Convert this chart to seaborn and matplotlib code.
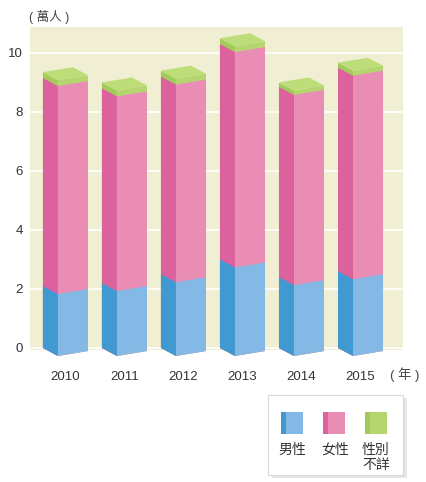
import numpy as np
import pandas as pd
import matplotlib
matplotlib.use("Agg")
import matplotlib.pyplot as plt
import seaborn as sns
from matplotlib.transforms import Affine2D
from matplotlib.patches import Polygon, Rectangle, FancyBboxPatch

years = ["2010", "2011", "2012", "2013", "2014", "2015"]
male = [2.1, 2.2, 2.5, 3.0, 2.4, 2.6]
female = [7.05, 6.6, 6.7, 7.3, 6.45, 6.9]
unknown = [0.2, 0.2, 0.2, 0.2, 0.15, 0.17]
series_labels = ["男性", "女性", "性別\n不詳"]
yticks = [0, 2, 4, 6, 8, 10]

df = pd.DataFrame({"year": years, "male": male, "female": female, "unknown": unknown})
df["lvl1"] = df["male"]
df["lvl2"] = df["male"] + df["female"]
df["lvl3"] = df["lvl2"] + df["unknown"]

# colours: (side, front)
blue = ("#4199d2", "#84b9e5")
pink = ("#dc629d", "#e98db4")
green = ("#a3cb5a", "#b5d66e")
green_top = "#bddd78"
bg = "#f1efd3"

sns.set_theme(style="white")
plt.rcParams["font.family"] = ["Liberation Sans", "Noto Sans CJK TC", "DejaVu Sans"]

W, H = 427, 482
fig = plt.figure(figsize=(W / 100, H / 100), dpi=100)
ax = fig.add_axes([30 / W, 132 / H, 373 / W, 323 / H])
ax.set_facecolor(bg)

px_x = 1 / 59.0   # data units per pixel
px_y = 1 / 29.5
sw = 15 * px_x    # side face width
fw = 30 * px_x    # front face width
half = 22.5 * px_x
drop = 8 * px_y   # front corner lower than the left edge
rise = 5 * px_y   # right edge higher than the front corner


def skew(patches, shift, k, anchor_off, d):
    for i, p in enumerate(patches):
        xl = i - half + anchor_off
        m = np.array([[1, 0, shift], [k, 1, k * (shift - xl) + d], [0, 0, 1]])
        p.set_transform(Affine2D(m) + ax.transData)
        p.set_clip_on(False)


layers = [("lvl3", green), ("lvl2", pink), ("lvl1", blue)]
for col, (c_side, c_front) in layers:
    n0 = len(ax.patches)
    sns.barplot(data=df, x="year", y=col, color=c_side, width=sw, saturation=1,
                linewidth=0, edgecolor="none", ax=ax)
    skew(ax.patches[n0:], -half + sw / 2, -drop / sw, 0, 0)
    n0 = len(ax.patches)
    sns.barplot(data=df, x="year", y=col, color=c_front, width=fw, saturation=1,
                linewidth=0, edgecolor="none", ax=ax)
    skew(ax.patches[n0:], -half + sw + fw / 2, rise / fw, sw, -drop)

# top faces
for i, t in enumerate(df["lvl3"]):
    xl = i - half
    xf = xl + sw
    xr = xf + fw
    pts = [(xl, t), (xf, t - drop), (xr, t - drop + rise), (xl + fw, t + rise)]
    ax.add_patch(Polygon(pts, closed=True, facecolor=green_top, edgecolor="none",
                         clip_on=False, zorder=3))

ax.set_xlim(-0.6, 5.72)
ax.set_ylim(-0.068, 10.88)
ax.set_yticks(yticks)
ax.grid(axis="y", color="white", linewidth=1.2)
ax.grid(axis="x", visible=False)
ax.set_axisbelow(True)
for s in ax.spines.values():
    s.set_visible(False)
ax.set_xlabel("")
ax.set_ylabel("")
ax.tick_params(axis="both", length=0, labelsize=9.5, labelcolor="#333333")
ax.tick_params(axis="x", pad=15)
ax.tick_params(axis="y", pad=5)

fig.text(49 / W, 1 - 17 / H, "( 萬人 )", fontsize=9, color="#444444",
         ha="center", va="center")
fig.text(405 / W, 1 - 375 / H, "( 年 )", fontsize=9.5, color="#444444",
         ha="center", va="center")

# legend box
fig.patches.append(FancyBboxPatch((272 / W, 1 - 478 / H), 135 / W, 80 / H,
                                  boxstyle="square,pad=0", transform=fig.transFigure,
                                  facecolor="#e6e6e6", edgecolor="none"))
fig.patches.append(FancyBboxPatch((268 / W, 1 - 475 / H), 135 / W, 80 / H,
                                  boxstyle="square,pad=0", transform=fig.transFigure,
                                  facecolor="white", edgecolor="#d8d8d8", linewidth=0.8))
sq_x = [281, 323, 365]
lab_x = [292, 335, 376]
for (c_side, c_front), x0, lx, lab in zip([blue, pink, green], sq_x, lab_x, series_labels):
    fig.patches.append(Rectangle((x0 / W, 1 - 434 / H), 22 / W, 22 / H,
                                 transform=fig.transFigure, facecolor=c_front,
                                 edgecolor="none"))
    fig.patches.append(Rectangle((x0 / W, 1 - 434 / H), 5 / W, 22 / H,
                                 transform=fig.transFigure, facecolor=c_side,
                                 edgecolor="none"))
    fig.text(lx / W, 1 - 443 / H, lab, fontsize=10, color="#333333",
             ha="center", va="top", linespacing=1.1)

fig.savefig("out.png", dpi=100)
